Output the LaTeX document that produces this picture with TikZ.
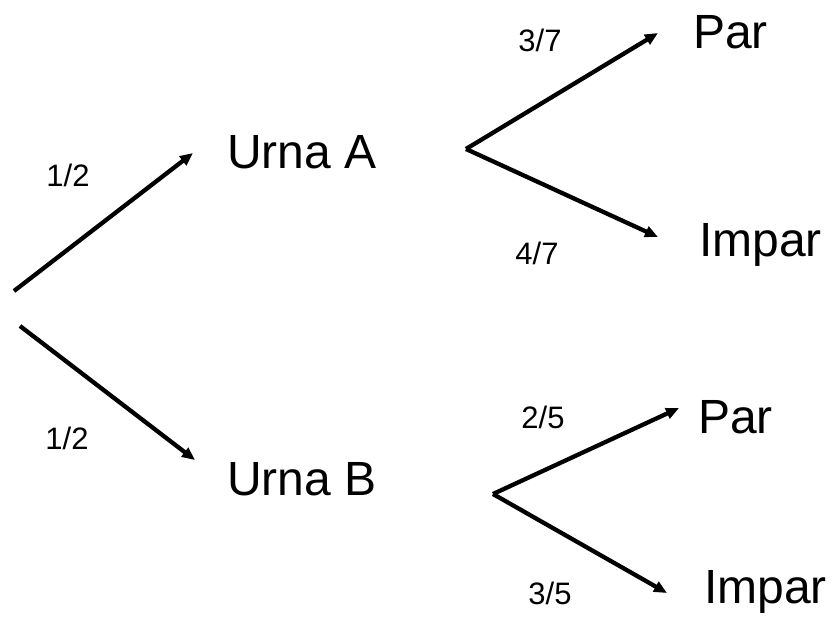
\documentclass[tikz,border=0pt]{standalone}
\usepackage{fontspec}
\setmainfont{Liberation Sans}
\usetikzlibrary{arrows.meta}
\begin{document}
\begin{tikzpicture}[x=1pt,y=-1pt,
  branch/.style={line width=4.3pt,-{Triangle[length=13pt,width=11pt]}},
  big/.style={font=\fontsize{48}{52}\selectfont,inner sep=0pt,anchor=base west},
  frac/.style={font=\fontsize{31}{34}\selectfont,inner sep=0pt}]
\useasboundingbox (0,0) rectangle (832,616);
% coordinates
\coordinate (r1) at (14,291);
\coordinate (r2) at (20,326);
\coordinate (a1) at (193,153);
\coordinate (a2) at (195,460);
\coordinate (sA) at (466,149);
\coordinate (pA) at (658,33);
\coordinate (iA) at (658,237);
\coordinate (sB) at (493,494);
\coordinate (pB) at (679,408);
\coordinate (iB) at (667,593);
% texts
\node[big] (uA) at (227,168) {Urna A};
\node[big] (uB) at (227,495) {Urna B};
\node[big] (parA) at (693,48) {Par};
\node[big] (impA) at (699,256) {Impar};
\node[big] (parB) at (698,433) {Par};
\node[big] (impB) at (704,603) {Impar};
\node[frac] (f1) at (68,175) {1/2};
\node[frac] (f2) at (67,438) {1/2};
\node[frac] (f3) at (540,40) {3/7};
\node[frac] (f4) at (537,253) {4/7};
\node[frac] (f5) at (543,417) {2/5};
\node[frac] (f6) at (550,593) {3/5};
% arrows
\draw[branch] (r1) -- (a1);
\draw[branch] (r2) -- (a2);
\draw[branch] (sA) -- (pA);
\draw[branch] (sA) -- (iA);
\draw[branch] (sB) -- (pB);
\draw[branch] (sB) -- (iB);
\end{tikzpicture}
\end{document}
